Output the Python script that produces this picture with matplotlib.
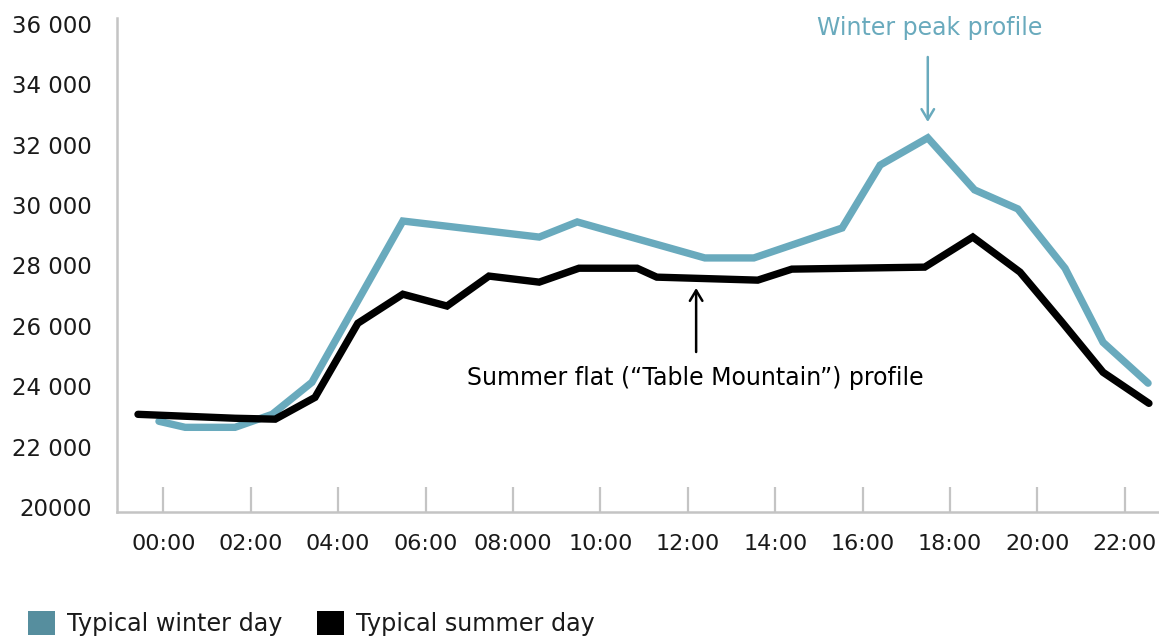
import matplotlib
matplotlib.use("Agg")
import matplotlib.pyplot as plt
from matplotlib.patches import Patch

# Hourly electricity demand (MW) over a typical day
summer_hours = [-0.58, 1.64, 2.56, 3.47, 4.45, 5.48, 6.49, 7.45, 8.60, 9.51,
                10.84, 11.29, 13.60, 14.38, 17.42, 18.52, 19.60, 20.56, 21.50, 22.55]
summer_load = [23080, 22950, 22920, 23640, 26090, 27050, 26660, 27650, 27450, 27910,
               27910, 27615, 27516, 27880, 27946, 28940, 27781, 26130, 24470, 23443]

winter_hours = [-0.10, 0.50, 1.64, 2.49, 3.40, 5.48, 8.60, 9.47, 12.39, 13.51,
                15.53, 16.40, 17.49, 18.56, 19.55, 20.63, 21.50, 22.53]
winter_load = [22850, 22650, 22650, 23080, 24140, 29470, 28940, 29440, 28250, 28250,
               29240, 31320, 32220, 30500, 29870, 27910, 25460, 24110]

tick_hours = list(range(0, 24, 2))
tick_labels = ["00:00", "02:00", "04:00", "06:00", "08:000", "10:00",
               "12:00", "14:00", "16:00", "18:00", "20:00", "22:00"]
y_ticks = [20000, 22000, 24000, 26000, 28000, 30000, 32000, 34000, 36000]
y_labels = ["20000", "22 000", "24 000", "26 000", "28 000",
            "30 000", "32 000", "34 000", "36 000"]

winter_peak = (17.49, 32220)
summer_flat = (12.19, 27560)

WINTER = "#69aabd"
WINTER_DARK = "#568e9e"
GRID = "#c4c4c4"
TEXT = "#1a1a1a"

plt.rcParams["font.family"] = ["DejaVu Sans"]

fig = plt.figure(figsize=(11.59, 6.38), dpi=100)
ax = fig.add_axes([117 / 1159, 1 - 512 / 638, 1 - 117 / 1159, (512 - 18) / 638])

ax.plot(summer_hours, summer_load, color="black", lw=5.3,
        solid_capstyle="round", solid_joinstyle="miter", zorder=3)
ax.plot(winter_hours, winter_load, color=WINTER, lw=5.3,
        solid_capstyle="round", solid_joinstyle="miter", zorder=2)

ax.set_xlim(-1.06, 22.78)
ax.set_ylim(19851, 36182)

ax.set_xticks(tick_hours)
ax.set_xticklabels(tick_labels)
ax.set_yticks(y_ticks)
ax.set_yticklabels(y_labels)

ax.tick_params(axis="x", direction="in", length=18, width=1.6, color=GRID,
               pad=16, labelsize=16, labelcolor=TEXT)
ax.tick_params(axis="y", length=0, pad=18, labelsize=16.5, labelcolor=TEXT)

for side in ("top", "right"):
    ax.spines[side].set_visible(False)
for side in ("left", "bottom"):
    ax.spines[side].set_color(GRID)
    ax.spines[side].set_linewidth(1.8)

# Annotations
arrow_style = "->,head_length=0.75,head_width=0.45"
ax.annotate("", xy=(winter_peak[0], 32744), xytext=(winter_peak[0], 34893),
            arrowprops=dict(arrowstyle=arrow_style, color=WINTER, lw=1.8,
                            shrinkA=0, shrinkB=0))
ax.text(17.54, 35851, "Winter peak profile", color=WINTER, fontsize=17,
        ha="center", va="center")

ax.annotate("", xy=(summer_flat[0], 27256), xytext=(summer_flat[0], 25140),
            arrowprops=dict(arrowstyle=arrow_style, color="black", lw=1.8,
                            shrinkA=0, shrinkB=0))
ax.text(12.16, 24281, "Summer flat (\u201cTable Mountain\u201d) profile",
        color="black", fontsize=17, ha="center", va="center")

handles = [Patch(facecolor=WINTER_DARK, edgecolor="none"),
           Patch(facecolor="black", edgecolor="none")]
fig.legend(handles, ["Typical winter day", "Typical summer day"],
           loc="upper left", bbox_to_anchor=(28 / 1159, 1 - 611 / 638),
           ncol=2, frameon=False, fontsize=17.2, handlelength=1.12,
           handleheight=1.15, handletextpad=0.52, columnspacing=1.45,
           borderpad=0, borderaxespad=0, labelcolor=TEXT)

fig.savefig("out.png", dpi=100)
